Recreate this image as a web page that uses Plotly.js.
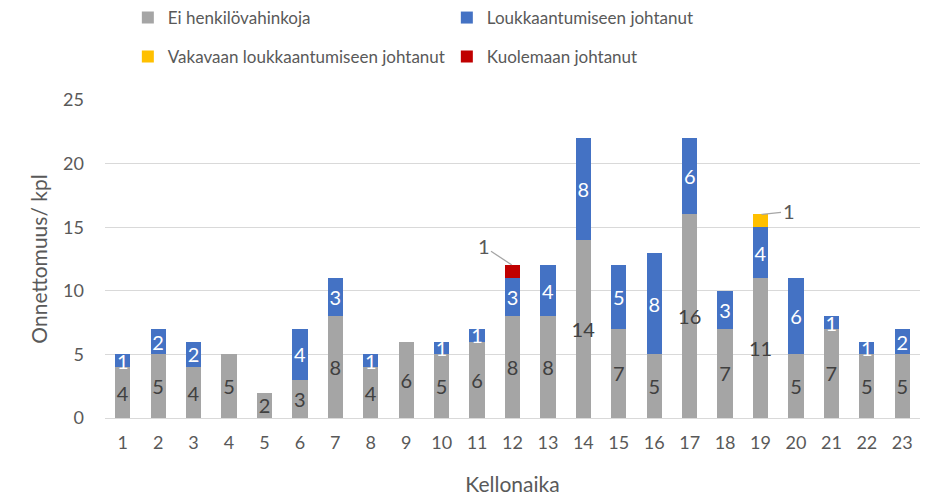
<!DOCTYPE html>
<html><head><meta charset="utf-8">
<script src="https://cdn.plot.ly/plotly-3.0.1.min.js"></script>
<style>html,body{margin:0;padding:0;background:#fff}#c{width:940px;height:496px}</style>
</head><body><div id="c"></div>
<script>
const hours = ['1','2','3','4','5','6','7','8','9','10','11','12','13','14','15','16','17','18','19','20','21','22','23'];
const eiHenkilo = [4,5,4,5,2,3,8,4,6,5,6,8,8,14,7,5,16,7,11,5,7,5,5];
const loukkaantuminen = [1,2,2,0,0,4,3,1,0,1,1,3,4,8,5,8,6,3,4,6,1,1,2];
const vakava = [0,0,0,0,0,0,0,0,0,0,0,0,0,0,0,0,0,0,1,0,0,0,0];
const kuolema = [0,0,0,0,0,0,0,0,0,0,0,1,0,0,0,0,0,0,0,0,0,0,0];
const seriesNames = ['Ei henkilövahinkoja','Loukkaantumiseen johtanut','Vakavaan loukkaantumiseen johtanut','Kuolemaan johtanut'];

const FONT = 'Lato, "Open Sans", sans-serif';
const lbl = a => a.map(v => v ? String(v) : '');
const common = {type:'bar', x:hours, width:0.43, constraintext:'none', textposition:'inside', insidetextanchor:'middle', textangle:0, hoverinfo:'none'};

const traces = [
  Object.assign({}, common, {name:seriesNames[0], legend:'legend', y:eiHenkilo, text:lbl(eiHenkilo), marker:{color:'#a5a5a5', line:{width:0}}, textfont:{color:'#404040', size:20, family:FONT}}),
  Object.assign({}, common, {name:seriesNames[1], legend:'legend', y:loukkaantuminen, text:lbl(loukkaantuminen), marker:{color:'#4472c4', line:{width:0}}, textfont:{color:'#ffffff', size:20, family:FONT}}),
  Object.assign({}, common, {name:seriesNames[2], legend:'legend2', y:vakava, text:vakava.map(()=>''), marker:{color:'#ffc000', line:{width:0}}}),
  Object.assign({}, common, {name:seriesNames[3], legend:'legend2', y:kuolema, text:kuolema.map(()=>''), marker:{color:'#c00000', line:{width:0}}})
];

// callout labels for the small top segments (category index used for x)
const annotations = [];
hours.forEach((h,i) => {
  const base = eiHenkilo[i] + loukkaantuminen[i];
  if (kuolema[i]) annotations.push({x:i, y:base + kuolema[i], xref:'x', yref:'y', text:String(kuolema[i]), showarrow:true, arrowhead:0, arrowwidth:1.3, arrowcolor:'#a6a6a6', ax:-29, ay:-19, standoff:1, font:{size:20, color:'#595959', family:FONT}});
  if (vakava[i]) annotations.push({x:i, y:base + vakava[i], xref:'x', yref:'y', text:String(vakava[i]), showarrow:true, arrowhead:0, arrowwidth:1.3, arrowcolor:'#a6a6a6', ax:28, ay:-3, standoff:1, font:{size:20, color:'#595959', family:FONT}});
});

const legendBase = {orientation:'h', xref:'container', yref:'container', x:0.136, xanchor:'left', yanchor:'middle', entrywidth:274, entrywidthmode:'pixels', font:{size:17, color:'#595959', family:FONT}, itemwidth:30, traceorder:'normal'};

const layout = {
  width:940, height:496,
  margin:{l:105, r:20, t:100, b:78, autoexpand:false},
  barmode:'stack',
  paper_bgcolor:'#fff', plot_bgcolor:'#fff',
  font:{family:FONT, color:'#595959'},
  showlegend:true,
  legend:Object.assign({}, legendBase, {y:1 - 18/496}),
  legend2:Object.assign({}, legendBase, {y:1 - 57/496}),
  xaxis:{type:'category', range:[-0.5,22.5], showgrid:false, zeroline:false, showline:false, ticks:'', ticklabelstandoff:12, tickfont:{size:18, color:'#595959'}, title:{text:'Kellonaika', font:{size:21, color:'#595959'}, standoff:26}},
  yaxis:{range:[0,25], dtick:5, showgrid:true, gridcolor:'#d9d9d9', gridwidth:1, zeroline:true, zerolinecolor:'#d9d9d9', zerolinewidth:1, showline:false, ticks:'', ticklabelstandoff:20, tickfont:{size:18, color:'#595959'}, title:{text:'Onnettomuus/ kpl', font:{size:21, color:'#595959'}, standoff:9}},
  annotations:annotations
};
Plotly.newPlot('c', traces, layout, {displayModeBar:false, staticPlot:true});
</script></body></html>
